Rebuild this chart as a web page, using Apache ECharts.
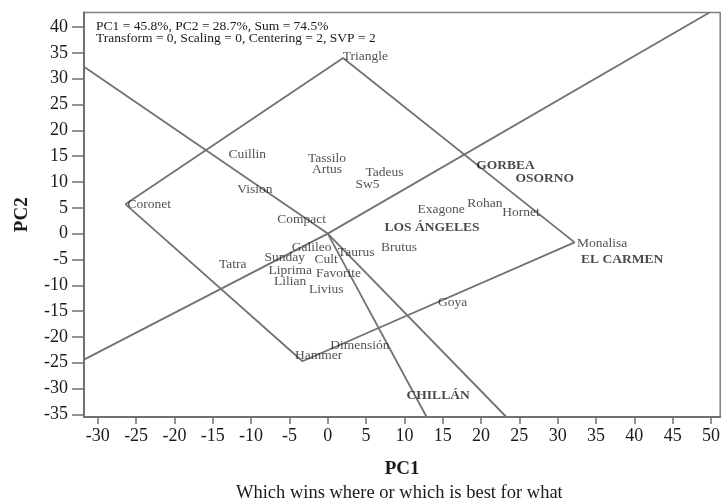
<!DOCTYPE html>
<html>
<head>
<meta charset="utf-8">
<script src="https://cdn.jsdelivr.net/npm/echarts@6/dist/echarts.min.js"></script>
<style>
html,body{margin:0;padding:0;background:#fff;}
#chart{width:723px;height:499px;}
</style>
</head>
<body>
<div id="chart"></div>
<script>
// genotype labels (PC1, PC2)
var genoNames=["Triangle","Cuillin","Tassilo","Artus","Tadeus","Sw5","Vision","Coronet","Compact","Exagone","Rohan","Hornet","Monalisa","Galileo","Taurus","Brutus","Sunday","Cult","Tatra","Liprima","Favorite","Lilian","Livius","Goya","Dimensión","Hammer"];
var genoX=[4.9,-10.5,-0.1,-0.1,7.4,5.2,-9.5,-23.3,-3.4,14.8,20.5,25.2,35.8,-2.1,3.7,9.3,-5.6,-0.2,-12.4,-4.9,1.4,-4.9,-0.2,16.3,4.2,-1.2];
var genoY=[34.2,15.4,14.6,12.5,11.9,9.5,8.6,5.7,2.8,4.7,5.9,4.0,-1.9,-2.6,-3.6,-2.7,-4.6,-5.0,-6.0,-7.1,-7.7,-9.2,-10.8,-13.3,-21.6,-23.5];
// environments
var envNames=["GORBEA","OSORNO","LOS ÁNGELES","EL CARMEN","CHILLÁN"];
var envX=[23.2,28.3,13.6,38.4,14.4];
var envY=[13.1,10.7,1.1,-5.0,-31.4];
// polygon vertices: Coronet, Triangle, Monalisa, Hammer
var hullX=[-26.4,2.0,32.2,-3.3];
var hullY=[5.7,34.0,-1.7,-24.7];
// rays from origin to plot edge
var rayX=[-31.8,49.8,-31.8,12.9,23.3];
var rayY=[32.3,42.8,-24.4,-35.5,-35.5];
var ticksX=[-30,-25,-20,-15,-10,-5,0,5,10,15,20,25,30,35,40,45,50];
var ticksY=[-35,-30,-25,-20,-15,-10,-5,0,5,10,15,20,25,30,35,40];

var serif='"Liberation Serif","DejaVu Serif",serif';
var lineCol='#727272';

var chart=echarts.init(document.getElementById('chart'));

var hull=[];
for(var i=0;i<=hullX.length;i++){var k=i%hullX.length;hull.push([hullX[k],hullY[k]]);}
var rays=rayX.map(function(x,i){return {coords:[[0,0],[x,rayY[i]]]};});
var geno=genoNames.map(function(n,i){return {name:n,value:[genoX[i],genoY[i]]};});
var env=envNames.map(function(n,i){return {name:n,value:[envX[i],envY[i]]};});

var option={
	animation:false,
	title:[
		{text:'PC1 = 45.8%, PC2 = 28.7%, Sum = 74.5%\nTransform = 0, Scaling = 0, Centering = 2, SVP = 2',
		 left:91,top:15,textStyle:{fontFamily:serif,fontSize:13.5,fontWeight:'normal',color:'#1a1a1a',lineHeight:12}},
		{text:'Which wins where or which is best for what',left:231,top:479,
		 textStyle:{fontFamily:serif,fontSize:18.5,fontWeight:'normal',color:'#1a1a1a'}}
	],
	grid:{left:84,right:1,top:12.5,bottom:82,show:true,borderColor:'#808080',borderWidth:1.5},
	xAxis:{type:'value',min:-31.8,max:51.2,name:'PC1',nameLocation:'middle',nameGap:43,
		nameTextStyle:{fontFamily:serif,fontSize:19,fontWeight:'bold',color:'#1a1a1a'},
		splitLine:{show:false},
		axisLine:{show:true,onZero:false,lineStyle:{color:'#707070',width:2}},
		axisTick:{show:true,length:7,lineStyle:{color:'#707070',width:1.5},customValues:ticksX},
		axisLabel:{fontFamily:serif,fontSize:18,color:'#1a1a1a',margin:10,customValues:ticksX}},
	yAxis:{type:'value',min:-35.5,max:42.8,name:'PC2',nameLocation:'middle',nameGap:52,nameRotate:90,
		nameTextStyle:{fontFamily:serif,fontSize:19,fontWeight:'bold',color:'#1a1a1a'},
		splitLine:{show:false},
		axisLine:{show:true,onZero:false,lineStyle:{color:'#707070',width:2}},
		axisTick:{show:true,length:12,lineStyle:{color:'#707070',width:1.5},customValues:ticksY},
		axisLabel:{fontFamily:serif,fontSize:18,color:'#1a1a1a',margin:16,customValues:ticksY}},
	series:[
		{type:'line',data:hull,symbol:'none',lineStyle:{color:lineCol,width:1.8},z:2},
		{type:'lines',coordinateSystem:'cartesian2d',data:rays,lineStyle:{color:lineCol,width:1.8,opacity:1},z:2},
		{type:'scatter',data:geno,symbolSize:0,z:3,
			label:{show:true,position:'inside',formatter:'{b}',fontFamily:serif,fontSize:13.5,color:'#262626'}},
		{type:'scatter',data:env,symbolSize:0,z:3,
			label:{show:true,position:'inside',formatter:'{b}',fontFamily:serif,fontSize:13.5,fontWeight:'bold',color:'#1a1a1a'}}
	]
};
chart.setOption(option);
window.addEventListener('resize',function(){chart.resize();});
</script>
</body>
</html>
